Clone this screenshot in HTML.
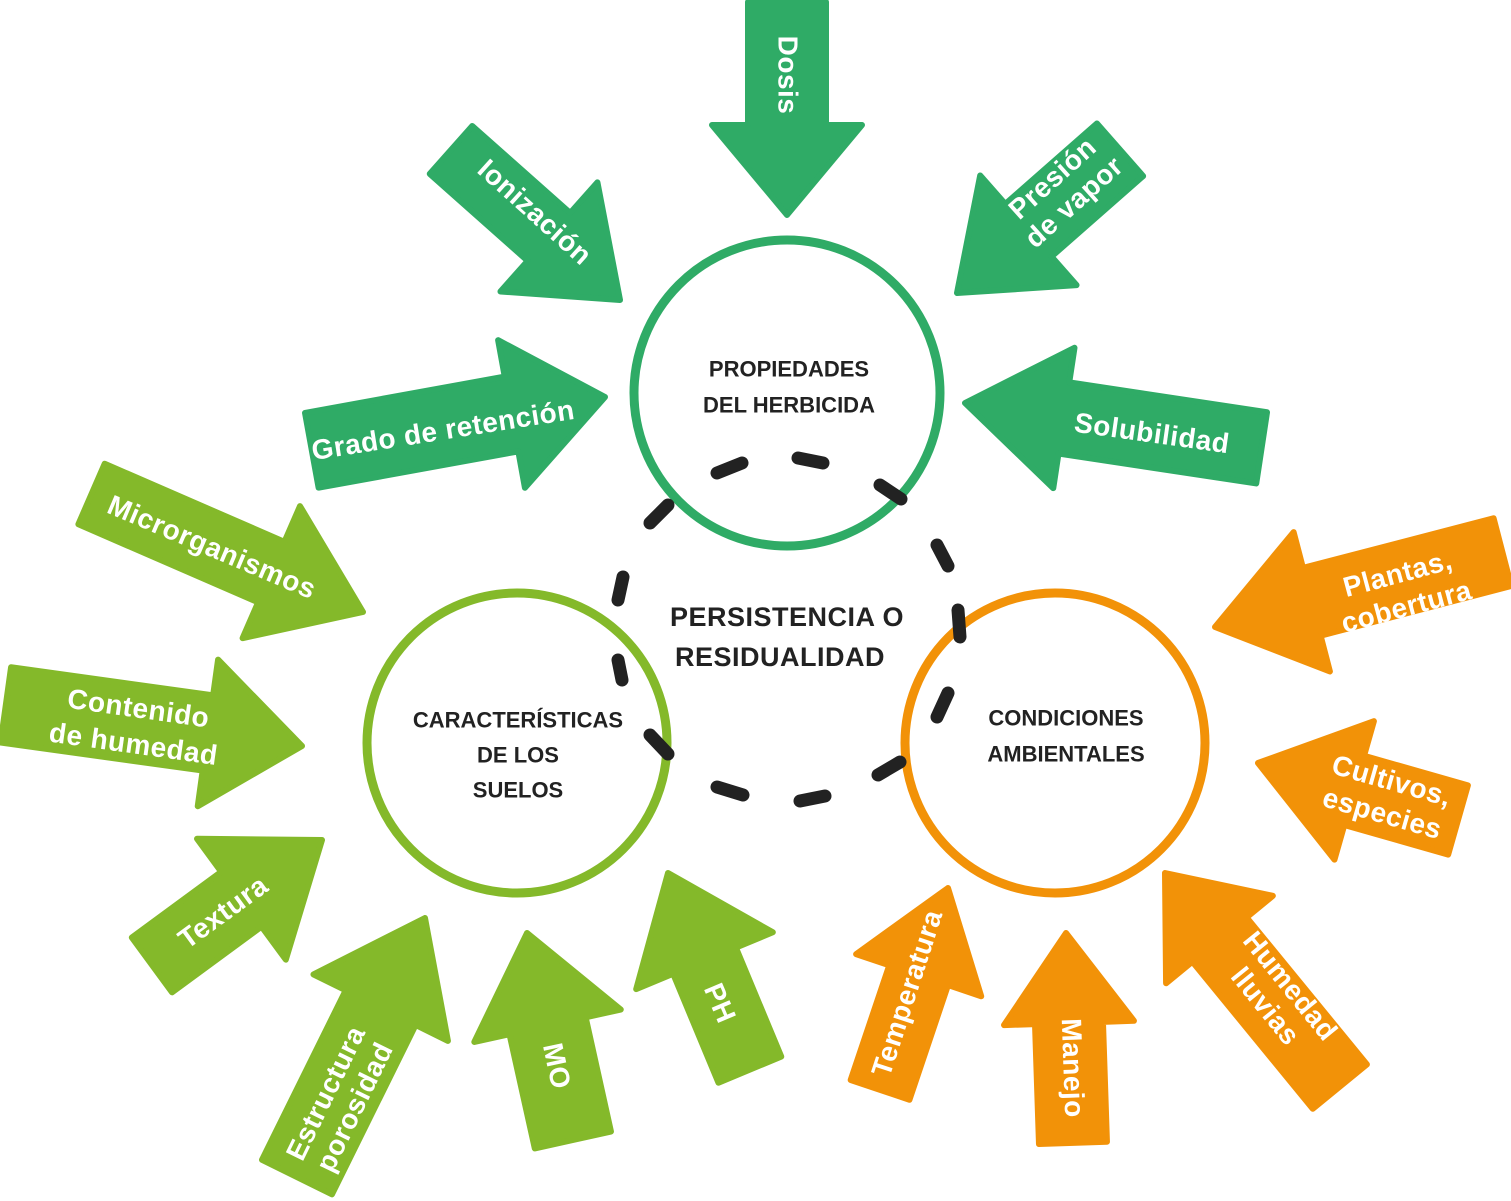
<!DOCTYPE html>
<html><head><meta charset="utf-8"><style>
html,body{margin:0;padding:0;background:#fff}
svg{display:block}
.t{font-family:"Liberation Sans",sans-serif;font-weight:bold;fill:#fff;font-size:28px;text-anchor:middle;dominant-baseline:central;letter-spacing:0.5px}
.c{font-family:"Liberation Sans",sans-serif;font-weight:bold;fill:#222;font-size:22px;text-anchor:middle;dominant-baseline:central}
.p{font-family:"Liberation Sans",sans-serif;font-weight:bold;fill:#222;font-size:27px;text-anchor:middle;dominant-baseline:central;letter-spacing:0.5px}
.dg path{fill:#2fab66;stroke:#2fab66}
.lg path{fill:#84b92a;stroke:#84b92a}
.or path{fill:#f29208;stroke:#f29208}
path{stroke-width:6;stroke-linejoin:round}
</style></head><body>
<svg width="1511" height="1201" viewBox="0 0 1511 1201" xmlns="http://www.w3.org/2000/svg">
<g class="dg">
<g transform="translate(787,215) rotate(90)"><path d="M0,0 L-90,-75 L-90,-39 L-213,-39 L-213,39 L-90,39 L-90,75 Z"/></g>
<g transform="translate(620,300) rotate(41.6)"><path d="M0,0 L-95,-73 L-95,-32 L-226,-32 L-226,32 L-95,32 L-95,73 Z"/></g>
<g transform="translate(957,293) rotate(138.7)"><path d="M0,0 L-95,-73 L-95,-35 L-217,-35 L-217,35 L-95,35 L-95,73 Z"/></g>
<g transform="translate(605,397) rotate(-10.3)"><path d="M0,0 L-95,-75 L-95,-38 L-298,-38 L-298,38 L-95,38 L-95,75 Z"/></g>
<g transform="translate(965,403) rotate(188.6)"><path d="M0,0 L-100,-71 L-100,-36 L-300,-36 L-300,36 L-100,36 L-100,71 Z"/></g>
</g>
<g class="lg">
<g transform="translate(363,612) rotate(23.5)"><path d="M0,0 L-100,-72 L-100,-33 L-296,-33 L-296,33 L-100,33 L-100,72 Z"/></g>
<g transform="translate(302,746) rotate(7.9)"><path d="M0,0 L-95,-74 L-95,-38 L-299,-38 L-299,38 L-95,38 L-95,74 Z"/></g>
<g transform="translate(322,840) rotate(-36.3)"><path d="M0,0 L-100,-75 L-100,-34 L-211,-34 L-211,34 L-100,34 L-100,75 Z"/></g>
<g transform="translate(425,918) rotate(-63.7)"><path d="M0,0 L-100,-75 L-100,-39 L-289,-39 L-289,39 L-100,39 L-100,75 Z"/></g>
<g transform="translate(527,933) rotate(-102.5)"><path d="M0,0 L-95,-75 L-95,-39 L-212,-39 L-212,39 L-95,39 L-95,75 Z"/></g>
<g transform="translate(668,873) rotate(-112.6)"><path d="M0,0 L-95,-74 L-95,-34 L-213,-34 L-213,34 L-95,34 L-95,74 Z"/></g>
</g>
<g class="or">
<g transform="translate(948,888) rotate(-71.4)"><path d="M0,0 L-92,-66 L-92,-31 L-213,-31 L-213,31 L-92,31 L-92,66 Z"/></g>
<g transform="translate(1066,933) rotate(-91.9)"><path d="M0,0 L-90,-65 L-90,-34 L-210,-34 L-210,34 L-90,34 L-90,65 Z"/></g>
<g transform="translate(1165,873) rotate(-129.3)"><path d="M0,0 L-86,-69 L-86,-35 L-276,-35 L-276,35 L-86,35 L-86,69 Z"/></g>
<g transform="translate(1258,763) rotate(195.9)"><path d="M0,0 L-100,-72 L-100,-36 L-208,-36 L-208,36 L-100,36 L-100,72 Z"/></g>
<g transform="translate(1215,627) rotate(165.4)"><path d="M0,0 L-100,-72 L-100,-35 L-297,-35 L-297,35 L-100,35 L-100,72 Z"/></g>
</g>

<circle cx="787" cy="393" r="153" fill="none" stroke="#2fab66" stroke-width="9"/>
<circle cx="517" cy="743" r="150" fill="none" stroke="#84b92a" stroke-width="9"/>
<circle cx="1055" cy="743" r="150" fill="none" stroke="#f29208" stroke-width="9"/>

<g stroke="#222" stroke-width="13" stroke-linecap="round" fill="none">
<line x1="717" y1="473" x2="742" y2="463"/>
<line x1="798" y1="458" x2="823" y2="463"/>
<line x1="880" y1="485" x2="901" y2="499"/>
<line x1="937" y1="545" x2="948" y2="566"/>
<line x1="958" y1="610" x2="960" y2="637"/>
<line x1="948" y1="693" x2="937" y2="717"/>
<line x1="900" y1="762" x2="878" y2="775"/>
<line x1="825" y1="796" x2="800" y2="801"/>
<line x1="743" y1="795" x2="717" y2="787"/>
<line x1="668" y1="754" x2="650" y2="735"/>
<line x1="622" y1="680" x2="618" y2="660"/>
<line x1="618" y1="600" x2="623" y2="577"/>
<line x1="650" y1="523" x2="668" y2="505"/>
</g>

<text class="p" x="787" y="617">PERSISTENCIA O</text>
<text class="p" x="780" y="657">RESIDUALIDAD</text>
<text class="c" x="789" y="369">PROPIEDADES</text>
<text class="c" x="789" y="405">DEL HERBICIDA</text>
<text class="c" x="518" y="720">CARACTERÍSTICAS</text>
<text class="c" x="518" y="755">DE LOS</text>
<text class="c" x="518" y="790">SUELOS</text>
<text class="c" x="1066" y="718">CONDICIONES</text>
<text class="c" x="1066" y="754">AMBIENTALES</text>

<text class="t" transform="translate(788,75) rotate(90)">Dosis</text>
<text class="t" transform="translate(535,212) rotate(42)">Ionización</text>
<g transform="translate(1063,190) rotate(-42)"><text class="t" y="-16">Presión</text><text class="t" y="16">de vapor</text></g>
<text class="t" transform="translate(443,430) rotate(-9)">Grado de retención</text>
<text class="t" transform="translate(1152,433) rotate(8)">Solubilidad</text>
<text class="t" transform="translate(212,547) rotate(23)">Microrganismos</text>
<g transform="translate(136,726) rotate(8)"><text class="t" y="-18">Contenido</text><text class="t" y="18">de humedad</text></g>
<text class="t" transform="translate(223,912) rotate(-36)">Textura</text>
<g transform="translate(340,1100) rotate(-64)"><text class="t" y="-16">Estructura</text><text class="t" y="16">porosidad</text></g>
<text class="t" transform="translate(557,1066) rotate(78)">MO</text>
<text class="t" transform="translate(720,1003) rotate(67)">PH</text>
<text class="t" transform="translate(907,993) rotate(-72)">Temperatura</text>
<text class="t" transform="translate(1073,1068) rotate(88)">Manejo</text>
<g transform="translate(1278,996) rotate(51)"><text class="t" y="-16">Humedad</text><text class="t" y="16">lluvias</text></g>
<g transform="translate(1387,797) rotate(16)"><text class="t" y="-17">Cultivos,</text><text class="t" y="17">especies</text></g>
<g transform="translate(1402,590) rotate(-15)"><text class="t" y="-17">Plantas,</text><text class="t" y="17">cobertura</text></g>
</svg>
</body></html>
